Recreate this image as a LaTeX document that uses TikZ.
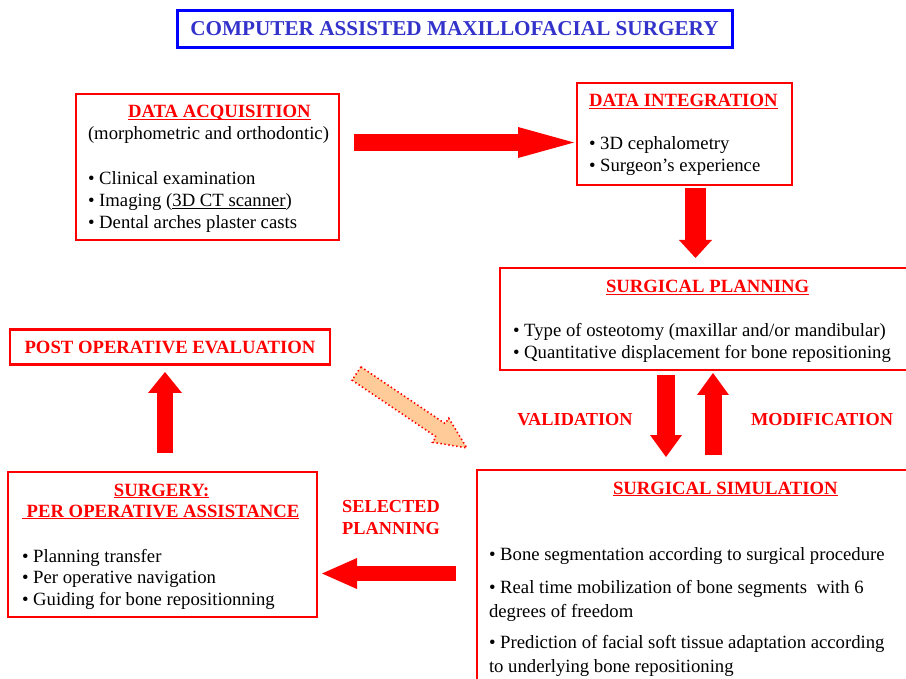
\documentclass[tikz,border=0pt]{standalone}
\usepackage{fontspec}
\setmainfont{Liberation Serif}
\usepackage{tikz}
\usetikzlibrary{arrows.meta}

\definecolor{titleblue}{RGB}{51,51,204}
\definecolor{peach}{RGB}{255,204,153}

\newcommand{\boxbody}[3]{\parbox[c][#2][t]{#1}{\raggedright #3}}
\newcommand{\heading}[1]{\leavevmode\setbox0=\hbox{\textcolor{red}{\bfseries #1}}\rlap{\textcolor{red}{\rule[-2.2pt]{\wd0}{1.4pt}}}\box0}

\begin{document}
\begin{tikzpicture}[x=1pt,y=-1pt,
  panel/.style={draw=red, line width=2.2pt, inner xsep=12pt, inner ysep=0pt, outer sep=0pt,
    anchor=north west, font=\fontsize{18.7}{22}\selectfont},
  tag/.style={text=red, align=center, font=\fontsize{18.3}{22}\selectfont\bfseries},
  blockarrow/.style args={#1/#2/#3}{draw=red, line width=#1,
    -{Triangle[length=#3, width=#2, line width=0pt]}}]
\useasboundingbox (0,0) rectangle (906,679);

% title
\node[draw=blue, line width=3pt, minimum width=555pt, minimum height=37pt, text=titleblue,
  font=\fontsize{21.2}{25}\selectfont\bfseries] (title) at (454.5,29) {COMPUTER ASSISTED MAXILLOFACIAL SURGERY};

% boxes
\node[panel] (acq) at (76,94) {\boxbody{239pt}{146pt}{\rule{0pt}{24pt}\hspace*{40pt}\heading{DATA ACQUISITION}\\
\mbox{(morphometric and orthodontic)}\\[23pt]
\textbullet{} Clinical examination\\
\textbullet{} Imaging (\underline{3D CT scanner})\\
\textbullet{} Dental arches plaster casts}};

\node[panel] (integ) at (577,83) {\boxbody{191pt}{102pt}{\rule{0pt}{24pt}\heading{DATA INTEGRATION}\\[21pt]
\textbullet{} 3D cephalometry\\
\textbullet{} Surgeon’s experience}};

\node[panel, inner xsep=13pt] (plan) at (500,268) {\boxbody{394pt}{102pt}{\rule{0pt}{25pt}\hspace*{93pt}\heading{SURGICAL PLANNING}\\[22pt]
\textbullet{} Type of osteotomy (maxillar and/or mandibular)\\
\textbullet{} Quantitative displacement for bone repositioning}};

\node[draw=red, line width=2.2pt, outer sep=0pt, minimum width=320pt, minimum height=35pt, text=red,
  font=\fontsize{18.7}{22}\selectfont\bfseries] (postop) at (170,347) {POST OPERATIVE EVALUATION};

\node[panel, inner xsep=14pt] (surg) at (8,472) {\boxbody{281pt}{145pt}{\rule{0pt}{24pt}\hspace*{92pt}\heading{SURGERY:}\\[-1pt]
\heading{\ PER OPERATIVE ASSISTANCE}\\[23pt]
\textbullet{} Planning transfer\\[-0.5pt]
\textbullet{} Per operative navigation\\[-0.5pt]
\textbullet{} Guiding for bone repositionning}};

\node[panel] (sim) at (477,470) {\boxbody{419pt}{230pt}{\rule{0pt}{24pt}\hspace*{124pt}\heading{SURGICAL SIMULATION}\\[44pt]
\textbullet{} Bone segmentation according to surgical procedure\\[11pt]
\textbullet{} Real time mobilization of bone segments~ with 6\\[2pt]
degrees of freedom\\[9pt]
\textbullet{} Prediction of facial soft tissue adaptation according\\[2pt]
to underlying bone repositioning}};

% arrows
\draw[blockarrow=17pt/31pt/56pt] ([xshift=15pt,yshift=24.5pt]acq.east) -- ([xshift=-3pt,yshift=-8.5pt]integ.west);
\draw[blockarrow=21pt/33pt/18pt] ([xshift=11pt,yshift=-3pt]integ.south) -- ([xshift=-14.5pt,yshift=10pt]plan.north);
\draw[blockarrow=18pt/32pt/22pt] ([xshift=-44pt,yshift=-5pt]plan.south) -- ([xshift=-32.5pt,yshift=13pt]sim.north);
\draw[blockarrow=17pt/32pt/22pt] ([xshift=14.5pt,yshift=15pt]sim.north) -- ([xshift=3pt,yshift=-3pt]plan.south);
\draw[blockarrow=16pt/34pt/21pt] ([xshift=2.5pt,yshift=19pt]surg.north) -- ([xshift=-5pt,yshift=-7.5pt]postop.south);
\draw[blockarrow=15pt/31pt/35pt] ([xshift=-21pt,yshift=11.5pt]sim.west) -- ([xshift=5pt,yshift=-29pt]surg.east);

% dotted hint arrow
\begin{scope}[shift={(356.5,373.5)}, rotate=-34]
\draw[fill=peach, draw=red, line width=1.6pt, dash pattern=on 1.4pt off 2.6pt]
  (0,-8) -- (101.5,-8) -- (101.5,-14.5) -- (133,0) -- (101.5,14.5) -- (101.5,8) -- (0,8) -- cycle;
\end{scope}

% labels
\node[tag] (valid) at (575,419.5) {VALIDATION};
\node[tag] (modif) at (822,419.5) {MODIFICATION};
\node[tag] (select) at (391,518) {SELECTED\\PLANNING};
\end{tikzpicture}
\end{document}
